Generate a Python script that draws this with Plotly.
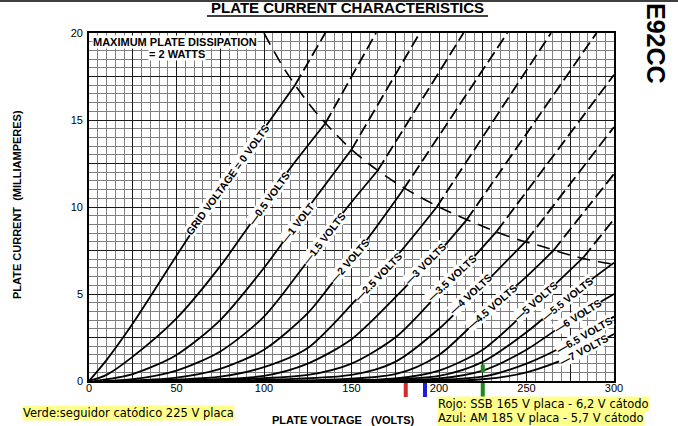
import plotly.graph_objects as go

# plate characteristic curves (plate volts / plate mA)
curve_labels = ['GRID VOLTAGE = 0 VOLTS', '—0.5 VOLTS', '—1 VOLT', '—1.5 VOLTS', '—2 VOLTS',
                '—2.5 VOLTS', '—3 VOLTS', '—3.5 VOLTS', '—4 VOLTS', '—4.5 VOLTS', '—5 VOLTS',
                '—5.5 VOLTS', '—6 VOLTS', '—6.5 VOLTS', '—7 VOLTS']

plate_v = [
    [0, 10, 25, 50, 75, 100, 117.7, 135],
    [0, 10, 25, 50, 75, 92, 114, 135, 164],
    [3, 25, 50, 75, 100, 111, 127, 150, 189],
    [8, 25, 50, 75, 100, 123.5, 145.4, 165, 214],
    [15, 50, 75, 100, 125, 138.7, 158.7, 179.6, 239],
    [22, 75, 100, 125, 152, 177.7, 198.7, 264],
    [30, 100, 125, 150, 175, 202.5, 215.8, 290],
    [40, 125, 150, 175, 195, 219.6, 233, 300],
    [50, 150, 175, 200, 225, 250, 300],
    [60, 175, 200, 225, 250, 265.4, 300],
    [70, 175, 200, 225, 250, 282.5, 300],
    [80, 200, 225, 250, 275, 300],
    [90, 200, 225, 250, 275, 300],
    [100, 225, 250, 275, 300],
    [110, 225, 250, 275, 300],
]
plate_ma = [
    [0, 1.2, 3.3, 7.2, 11.0, 14.5, 17.0, 20.0],
    [0, 0.35, 1.4, 3.6, 6.6, 9.0, 12.1, 14.8, 20.0],
    [0, 0.4, 1.5, 3.5, 6.5, 8.0, 10.2, 13.3, 20.0],
    [0, 0.1, 0.6, 1.7, 3.7, 6.7, 9.7, 12.1, 20.0],
    [0, 0.2, 0.7, 1.8, 3.9, 5.6, 8.1, 11.0, 20.0],
    [0, 0.25, 0.8, 1.9, 4.6, 7.4, 10.0, 20.0],
    [0, 0.3, 1.0, 2.4, 4.8, 7.7, 9.26, 20.0],
    [0, 0.35, 1.0, 2.5, 4.5, 7.1, 8.6, 17.6],
    [0, 0.35, 1.1, 3.0, 5.5, 8.07, 14.6],
    [0, 0.4, 1.5, 3.8, 6.0, 7.5, 11.9],
    [0, 0.15, 0.6, 1.8, 4.0, 7.1, 9.3],
    [0, 0.3, 1.1, 2.8, 4.9, 6.8],
    [0, 0.15, 0.6, 1.8, 3.5, 5.0],
    [0, 0.25, 1.0, 2.2, 3.7],
    [0, 0.1, 0.5, 1.4, 2.7],
]
# plate volts where each curve crosses the 2 W line (None: never above it)
limit_v = [117.7, 135, 150, 165, 179.6, 198.7, 215.8, 233, 250, 265.4, 282.5,
           None, None, None, None]

# maximum plate dissipation line
diss_v = [100, 110, 120, 130, 140, 150, 165, 180, 200, 220, 240, 260, 280, 300]
diss_ma = [20, 18.2, 16.7, 15.4, 14.3, 13.3, 12.1, 11.1, 10, 9.1, 8.3, 7.7, 7.1, 6.7]

# coloured operating-point marks under the axis
mark_v = [181, 192, 225]
mark_colors = ['#d42a2a', '#1c1ce0', '#1a8a1a']

# where the curve labels sit (text placement)
label_v = [79, 103, 119, 134.5, 148.7, 165, 192, 207.3, 218, 230, 255.3, 273, 279, 283, 282.5]
label_ma = [11.55, 10.5, 9.1, 8.2, 6.9, 6.0, 6.7, 5.9, 5.0, 4.25, 4.6, 4.73, 3.74, 2.66, 1.79]
label_angle = [-54, -54, -52, -52, -49, -46, -45, -43, -43, -41, -41, -39, -32, -30, -28]

# page pixels of the plot frame
L, R, T, B = 89, 614, 33, 381
W, H = 678, 426


def px(x):
    return (x - L) / (R - L)


def py(y):
    return (B - y) / (B - T)


FONT = 'Liberation Sans, Arial, sans-serif'

fig = go.Figure()

for k in range(len(plate_v)):
    v, ma, lim = plate_v[k], plate_ma[k], limit_v[k]
    if lim is None:
        sv, sm, dv, dm = v, ma, [], []
    else:
        sv = [a for a in v if a <= lim]
        sm = [b for a, b in zip(v, ma) if a <= lim]
        dv = [a for a in v if a >= lim]
        dm = [b for a, b in zip(v, ma) if a >= lim]
    fig.add_trace(go.Scatter(x=sv, y=sm, mode='lines', line_shape='spline',
                             line=dict(color='black', width=1.8, smoothing=0.8),
                             showlegend=False, hoverinfo='skip'))
    if dv:
        fig.add_trace(go.Scatter(x=dv, y=dm, mode='lines',
                                 line=dict(color='black', width=1.8, dash='12px,5px'),
                                 showlegend=False, hoverinfo='skip'))

fig.add_trace(go.Scatter(x=diss_v, y=diss_ma, mode='lines', line_shape='spline',
                         line=dict(color='black', width=1.6, dash='13px,8px'),
                         showlegend=False, hoverinfo='skip'))

for k, txt in enumerate(curve_labels):
    fig.add_annotation(x=label_v[k], y=label_ma[k], xref='x', yref='y', text='<b>%s</b>' % txt,
                       textangle=label_angle[k], showarrow=False, bgcolor='white', borderpad=0,
                       xanchor='center', yanchor='middle',
                       font=dict(family=FONT, size=10.5, color='black'))

fig.add_annotation(x=px(174.5), y=py(42), xref='paper', yref='paper',
                   text='<b>MAXIMUM PLATE DISSIPATION</b>', showarrow=False,
                   xanchor='center', yanchor='middle', bgcolor='white', borderpad=0,
                   font=dict(family=FONT, size=11, color='black'))
fig.add_annotation(x=px(177), y=py(54), xref='paper', yref='paper',
                   text='<b>= 2 WATTS</b>', showarrow=False,
                   xanchor='center', yanchor='middle', bgcolor='white', borderpad=0,
                   font=dict(family=FONT, size=11, color='black'))

# title, part number and axis titles
fig.add_annotation(x=px(347.5), y=py(7), xref='paper', yref='paper',
                   text='<b>PLATE CURRENT CHARACTERISTICS</b>', showarrow=False,
                   xanchor='center', yanchor='middle',
                   font=dict(family=FONT, size=15, color='black'))
fig.add_shape(type='line', xref='paper', yref='paper', x0=px(207), x1=px(488), y0=py(16), y1=py(16),
              line=dict(color='black', width=1.6))
fig.add_shape(type='line', xref='paper', yref='paper', x0=px(0), x1=px(W), y0=py(1), y1=py(1),
              line=dict(color='black', width=1.5))
fig.add_annotation(x=px(656), y=py(43), xref='paper', yref='paper', text='<b>E92CC</b>',
                   textangle=90, showarrow=False, xanchor='center', yanchor='middle',
                   font=dict(family='Liberation Sans Narrow, Liberation Sans, sans-serif', size=25,
                             color='black'))
fig.add_annotation(x=px(17), y=py(205), xref='paper', yref='paper',
                   text='<b>PLATE CURRENT  (MILLIAMPERES)</b>', textangle=-90, showarrow=False,
                   xanchor='center', yanchor='middle',
                   font=dict(family=FONT, size=11, color='black'))
fig.add_annotation(x=px(343), y=py(420), xref='paper', yref='paper',
                   text='<b>PLATE VOLTAGE   (VOLTS)</b>', showarrow=False,
                   xanchor='center', yanchor='middle',
                   font=dict(family=FONT, size=11, color='black'))

# yellow notes
NOTE = 'DejaVu Sans, Verdana, sans-serif'
notes = [('Verde:seguidor catódico 225 V placa', 22, 413),
         ('Rojo: SSB 165 V placa - 6,2 V cátodo', 437, 404),
         ('Azul: AM 185 V placa - 5,7 V cátodo', 437, 418)]
for txt, nx, ny in notes:
    fig.add_annotation(x=px(nx), y=py(ny), xref='paper', yref='paper', xanchor='left',
                       yanchor='middle', text=txt, showarrow=False, bgcolor='#ffff8c', borderpad=0,
                       font=dict(family=NOTE, size=11.5, color='black'))

for v, c in zip(mark_v, mark_colors):
    fig.add_shape(type='line', xref='x', yref='paper', x0=v, x1=v, y0=py(383), y1=py(397),
                  line=dict(color=c, width=4))
fig.add_shape(type='line', xref='x', yref='y', x0=mark_v[2], x1=mark_v[2], y0=0.5, y1=0.95,
              line=dict(color=mark_colors[2], width=4))

xt = list(range(0, 301, 25))
yt = [i * 2.5 for i in range(9)]
fig.update_xaxes(range=[0, 300], tickvals=xt,
                 ticktext=[str(v) if v % 50 == 0 else '' for v in xt],
                 showgrid=True, gridcolor='#1a1a1a', gridwidth=1.1,
                 minor=dict(dtick=5, showgrid=True, gridcolor='#808080', gridwidth=0.8),
                 showline=True, linecolor='black', linewidth=1.6, mirror=True,
                 zeroline=False, ticks='', ticklabelstandoff=-4,
                 tickfont=dict(family=FONT, size=11, color='black'))
fig.update_yaxes(range=[0, 20], tickvals=yt,
                 ticktext=[('%g' % v) if v % 5 == 0 else '' for v in yt],
                 showgrid=True, gridcolor='#1a1a1a', gridwidth=1.1,
                 minor=dict(dtick=0.5, showgrid=True, gridcolor='#808080', gridwidth=0.8),
                 showline=True, linecolor='black', linewidth=1.6, mirror=True,
                 zeroline=False, ticks='', ticklabelstandoff=2,
                 tickfont=dict(family=FONT, size=11, color='black'))

fig.update_layout(width=W, height=H, margin=dict(l=L, r=W - R, t=T, b=H - B),
                  paper_bgcolor='white', plot_bgcolor='white', showlegend=False)

# the page body has a default 8 px margin; drop it so the figure fills the window
fig.write_html('out.html', config={'displayModeBar': False},
               post_script="document.body.style.margin = '0px';")
